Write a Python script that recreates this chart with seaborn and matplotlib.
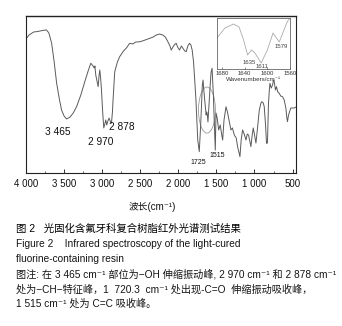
import matplotlib
matplotlib.use("Agg")
import matplotlib.pyplot as plt
import seaborn as sns
import pandas as pd
from matplotlib.patches import Ellipse

sns.set_theme(style="white")
plt.rcParams['font.family'] = ['Liberation Sans', 'Noto Sans CJK SC', 'DejaVu Sans']

# Main FTIR spectrum (wavenumber, transmittance arbitrary units)
wavenumber = [4000, 3960, 3900, 3850, 3780, 3730, 3700, 3664, 3630, 3598, 3560, 3533, 3500, 3467,
              3420, 3380, 3336, 3280, 3228, 3180, 3149, 3120, 3105, 3095, 3084, 3065, 3053, 3040,
              3031, 3020, 3009, 2995, 2979, 2965, 2953, 2940, 2925, 2910, 2895, 2878, 2865, 2857,
              2845, 2835, 2800, 2770, 2720, 2682, 2639, 2600, 2560, 2508, 2470, 2420, 2377, 2330,
              2290, 2246, 2203, 2170, 2137, 2110, 2093, 2075, 2063, 2040, 2027, 2010, 1984, 1960,
              1941, 1915, 1897, 1875, 1853, 1835, 1818, 1800, 1788, 1770, 1757, 1745, 1725, 1710,
              1698, 1685, 1675, 1668, 1657, 1645, 1635, 1628, 1620, 1611, 1600, 1592, 1580, 1570,
              1557, 1540, 1525, 1515, 1505, 1490, 1470, 1450, 1430, 1418, 1400, 1374, 1355, 1340,
              1309, 1290, 1265, 1240, 1222, 1191, 1175, 1156, 1135, 1112, 1095, 1078, 1047, 1030,
              1016, 1000, 981, 960, 937, 915, 902, 885, 872, 855, 842, 830, 816, 805, 797, 780,
              763, 750, 741, 725, 711, 695, 676, 655, 632, 610, 588, 575, 567, 555, 545, 523,
              500, 479, 455]
transmittance = [85.4, 87.9, 89.8, 90.1, 90.8, 91.1, 89.2, 82.8, 70.7, 57.3, 46.5, 40.1, 36.3, 34.4,
                 35.7, 38.2, 42.2, 49.7, 58.2, 65.6, 69.9, 68.2, 66.9, 68.2, 62.4, 58.0, 55.0, 62.4,
                 65.6, 60.5, 52.9, 40.1, 28.7, 31.2, 33.8, 30.6, 33.1, 35.0, 33.1, 31.7, 38.9, 46.5,
                 56.1, 64.5, 70.7, 74.1, 77.7, 79.6, 82.6, 82.2, 83.4, 83.6, 84.1, 85.0, 85.8, 86.6,
                 87.9, 88.5, 87.9, 86.6, 83.6, 80.9, 78.3, 79.9, 80.9, 82.2, 82.6, 80.3, 78.3, 80.9,
                 79.6, 77.7, 77.3, 80.9, 82.6, 81.5, 78.3, 70.7, 61.3, 47.8, 33.8, 21.0, 13.6, 27.4,
                 40.1, 56.1, 59.2, 54.1, 48.6, 43.3, 36.9, 38.9, 37.6, 32.5, 41.4, 48.6, 57.3, 64.3,
                 66.7, 49.7, 27.4, 14.6, 38.2, 35.0, 27.4, 30.6, 24.2, 21.0, 33.8, 42.2, 38.9, 35.0,
                 27.4, 28.7, 24.2, 22.3, 16.8, 10.4, 21.0, 27.4, 24.8, 21.0, 24.8, 24.2, 16.8, 24.2,
                 28.7, 24.2, 19.1, 28.7, 40.1, 44.6, 45.4, 44.6, 42.2, 30.6, 18.9, 19.1, 44.6, 52.9,
                 57.1, 54.1, 56.1, 59.2, 58.2, 52.9, 55.0, 51.6, 50.8, 49.0, 48.6, 46.5, 41.4, 35.0,
                 32.7, 36.3, 38.2, 41.4, 41.4, 41.4, 42.0]

# Inset spectrum (1690-1560 cm-1)
inset_wn = [1689, 1675, 1660, 1650, 1642, 1635, 1628, 1622, 1611, 1600, 1590, 1584, 1579, 1572,
            1565, 1558]
inset_t = [31, 41, 45, 42, 29, 14, 19, 16, 6, 19, 36, 31, 27, 37, 47, 53]

main_ticks = [4000, 3500, 3000, 2500, 2000, 1500, 1000, 500]
main_tick_labels = ["4 000", "3 500", "3 000", "2 500", "2 000", "1 500", "1 000", "500"]
inset_ticks = [1680, 1640, 1600, 1560]
inset_tick_labels = ["1680", "1640", "1600", "1560"]

peak_labels = ["3 465", "2 970", "2 878", "1725", "1515"]

caption_lines = [
    "图 2   光固化含氟牙科复合树脂红外光谱测试结果",
    "Figure 2    Infrared spectroscopy of the light-cured",
    "fluorine-containing resin",
    "图注: 在 3 465 cm⁻¹ 部位为−OH 伸缩振动峰, 2 970 cm⁻¹ 和 2 878 cm⁻¹",
    "处为−CH−特征峰，1  720.3  cm⁻¹ 处出现-C=O  伸缩振动吸收峰，",
    "1 515 cm⁻¹ 处为 C=C 吸收峰。",
]

W, H = 342, 326
fig = plt.figure(figsize=(W / 100, H / 100), dpi=100)
fig.patch.set_facecolor("white")

def fx(px):
    return px / W

def fy(py):
    return 1 - py / H

def ty(py):
    return (173 - py) / 157 * 100

ax = fig.add_axes([fx(26), fy(173), fx(296) - fx(26), fy(16) - fy(173)])
df = pd.DataFrame({"wn": wavenumber, "t": transmittance})
sns.lineplot(data=df, x="wn", y="t", ax=ax, color="#5a5a5a", linewidth=0.7, estimator=None,
             sort=False)
ax.set_xlim(4000, 455)
ax.set_ylim(0, 100)
ax.set_xticks(main_ticks, main_tick_labels)
ax.set_xticks([3750, 3250, 2750, 2250, 1750, 1250, 750], minor=True)
ax.set_yticks([])
ax.set_xlabel("")
ax.set_ylabel("")
ax.tick_params(axis="x", which="major", direction="in", length=3, width=0.6, labelsize=7,
               pad=4, colors="#111111", bottom=True)
ax.tick_params(axis="x", which="minor", direction="in", length=1.8, width=0.5, bottom=True)
for s in ax.spines.values():
    s.set_color("#222222")
    s.set_linewidth(0.8)
ax.spines["top"].set_linewidth(1.0)

# annotation ellipse linking to inset
ax.add_patch(Ellipse((1624, 40.1), 222, 29.3, fill=False, edgecolor="#9a9a9a", linewidth=0.6))

# peak labels
ax.text(3580, ty(132), peak_labels[0], ha="center", va="center", fontsize=7.3, color="#111111")
ax.text(3020, ty(142), peak_labels[1], ha="center", va="center", fontsize=7.3, color="#111111")
ax.text(2745, ty(127), peak_labels[2], ha="center", va="center", fontsize=7.3, color="#111111")
ax.text(1735, ty(162), peak_labels[3], ha="center", va="center", fontsize=5, color="#111111")
ax.text(1490, ty(155), peak_labels[4], ha="center", va="center", fontsize=5, color="#111111")

# x label
fig.text(fx(152), fy(207), "波长(cm⁻¹)", ha="center", va="center", fontsize=7,
         color="#111111")

# inset
axi = fig.add_axes([fx(217), fy(69), fx(290) - fx(217), fy(18) - fy(69)])
axi.set_facecolor("white")
dfi = pd.DataFrame({"wn": inset_wn, "t": inset_t})
sns.lineplot(data=dfi, x="wn", y="t", ax=axi, color="#aaaaaa", linewidth=0.6, estimator=None,
             sort=False)
axi.set_xlim(1689, 1560)
axi.set_ylim(0, 51)
axi.set_yticks([])
axi.set_xticks(inset_ticks, inset_tick_labels)
axi.tick_params(axis="x", direction="in", length=1.5, width=0.4, labelsize=4.3, pad=1.5,
                colors="#333333", bottom=True)
axi.set_xlabel("Wavenumbers/cm⁻¹", fontsize=4.5, labelpad=1, color="#333333")
axi.set_ylabel("")
for s in axi.spines.values():
    s.set_color("#666666")
    s.set_linewidth(0.6)
axi.text(1633, 7, "1635", ha="center", va="center", fontsize=4.3, color="#444444")
axi.text(1609, 2.5, "1611", ha="center", va="center", fontsize=4.3, color="#444444")
axi.text(1575, 22, "1579", ha="center", va="center", fontsize=4.3, color="#444444")

# caption
cap_y = [229, 244, 259, 274, 289, 304]
for i, (line, y) in enumerate(zip(caption_lines, cap_y)):
    fig.text(fx(16), fy(y), line, ha="left", va="center", fontsize=7.5 if i == 0 else 7.3,
             color="#000000" if i == 0 else "#151515")

fig.savefig("out.png", dpi=100, facecolor="white")
